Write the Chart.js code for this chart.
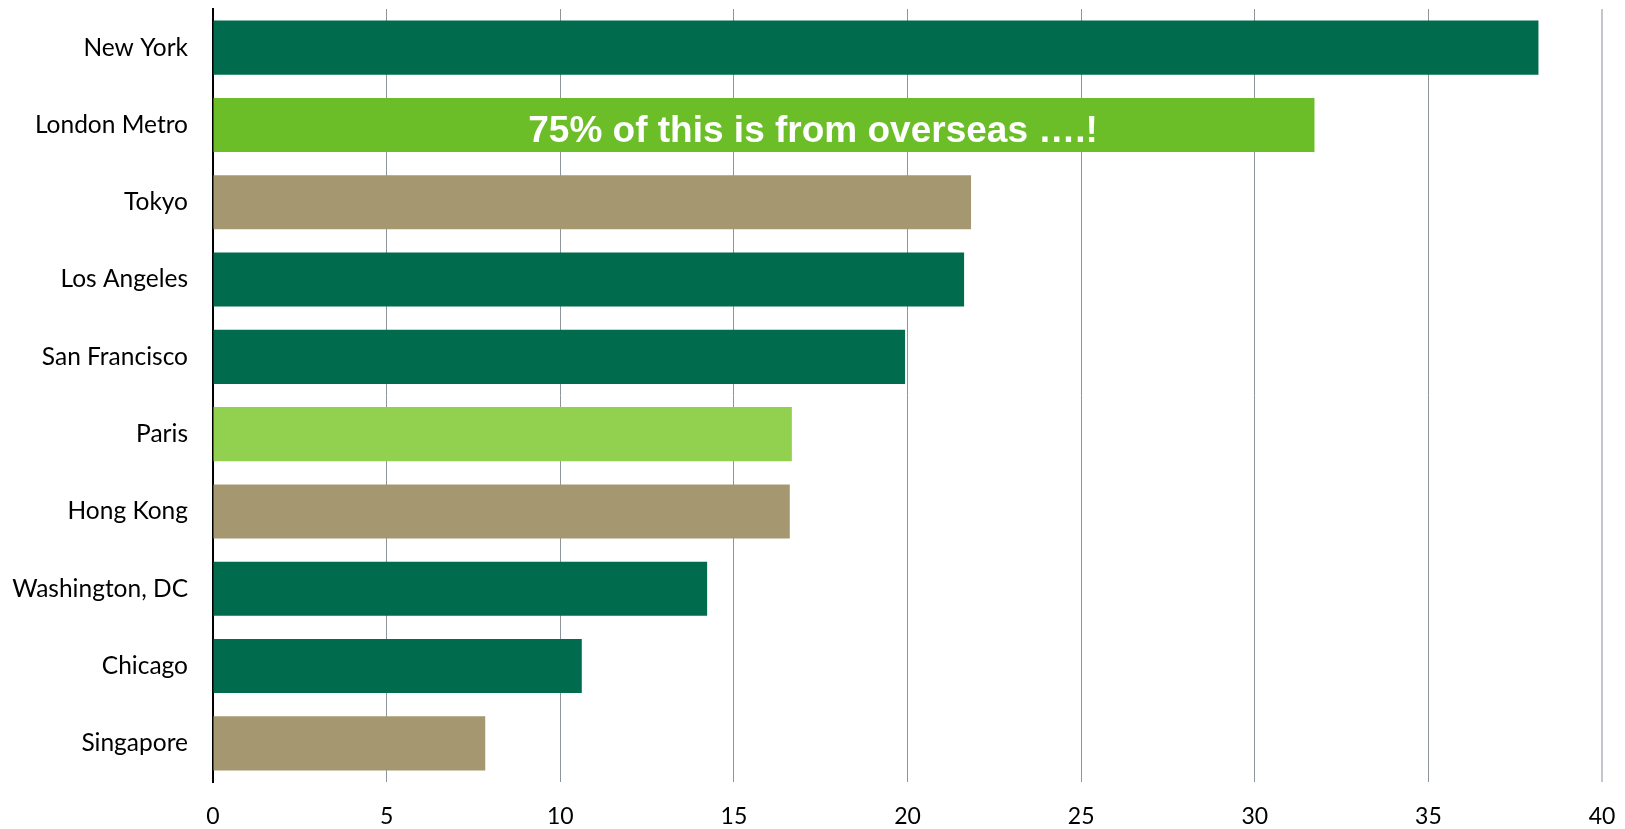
<!DOCTYPE html>
<html>
<head>
<meta charset="utf-8">
<script src="https://cdn.jsdelivr.net/npm/chart.js@4/dist/chart.umd.min.js"></script>
<style>
  html, body { margin: 0; padding: 0; background: #ffffff; }
  #wrap { width: 1625px; height: 829px; position: relative; }
</style>
</head>
<body>
<div id="wrap"><canvas id="chart"></canvas></div>
<script>
// Cities, ranked
const cities = ['New York', 'London Metro', 'Tokyo', 'Los Angeles', 'San Francisco',
                'Paris', 'Hong Kong', 'Washington, DC', 'Chicago', 'Singapore'];
const values = [38.17, 31.72, 21.83, 21.63, 19.93, 16.67, 16.61, 14.23, 10.62, 7.84];
const regions = ['US', 'UK', 'Asia', 'US', 'US', 'Europe', 'Asia', 'US', 'US', 'Asia'];
const regionColors = { US: '#006b4d', UK: '#6bbe28', Asia: '#a59870', Europe: '#92d050' };

// Axis ticks
const xMin = 0, xMax = 40, xStep = 5;

// Callout on the London bar
const calloutIndex = 1;
const calloutText = '75% of this is from overseas \u2026.!';
const calloutCenterValue = 17.28;

const calloutPlugin = {
  id: 'callout',
  afterDatasetsDraw(chart) {
    const bar = chart.getDatasetMeta(0).data[calloutIndex];
    const x = chart.scales.x.getPixelForValue(calloutCenterValue);
    const ctx = chart.ctx;
    ctx.save();
    ctx.font = 'bold 37px "Liberation Sans", Arial, sans-serif';
    ctx.fillStyle = '#ffffff';
    ctx.textAlign = 'center';
    ctx.textBaseline = 'alphabetic';
    ctx.fillText(calloutText, x, bar.y + 17.5);
    ctx.restore();
  }
};

new Chart(document.getElementById('chart'), {
  type: 'bar',
  data: {
    labels: cities,
    datasets: [{
      data: values,
      backgroundColor: regions.map(r => regionColors[r]),
      borderWidth: 0,
      categoryPercentage: 1,
      barPercentage: 0.7
    }]
  },
  options: {
    indexAxis: 'y',
    responsive: true,
    maintainAspectRatio: false,
    animation: false,
    layout: { padding: { top: 9, right: 23, bottom: 0, left: 0 } },
    plugins: { legend: { display: false }, tooltip: { enabled: false } },
    scales: {
      x: {
        min: xMin, max: xMax,
        ticks: {
          stepSize: xStep,
          color: '#000000',
          padding: 21,
          font: { family: 'Lato', size: 23 }
        },
        grid: {
          drawTicks: false,
          color: ctx => (ctx.tick && ctx.tick.value === xMax) ? '#c3c7cb' : '#8d949a',
          lineWidth: ctx => (ctx.tick && ctx.tick.value === xMax) ? 2 : 1
        },
        border: { display: false },
        afterFit(scale) { scale.height = 47; scale.paddingLeft = 0; scale.paddingRight = 0; }
      },
      y: {
        ticks: {
          color: '#000000',
          padding: 25,
          font: { family: 'Lato', size: 24.5 }
        },
        grid: { display: false, drawTicks: false },
        border: { display: true, color: '#000000', width: 2 },
        afterFit(scale) { scale.width = 213; scale.paddingTop = 0; scale.paddingBottom = 0; }
      }
    }
  },
  plugins: [calloutPlugin]
});
</script>
</body>
</html>
